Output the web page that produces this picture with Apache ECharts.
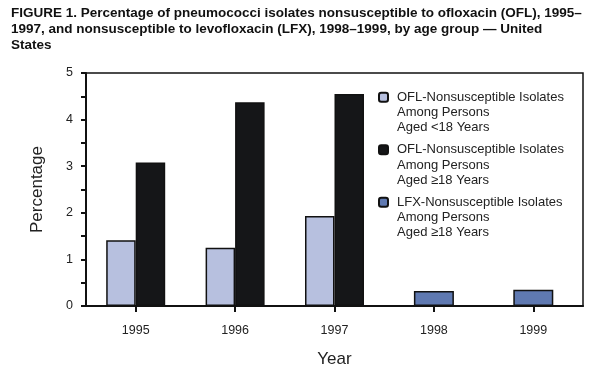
<!DOCTYPE html>
<html><head><meta charset="utf-8">
<script src="https://cdn.jsdelivr.net/npm/echarts@6/dist/echarts.min.js"></script>
<style>html,body{margin:0;padding:0;background:#fff}#c{width:600px;height:378px}</style>
</head><body><div id="c"></div>
<script>
var years = ['1995','1996','1997','1998','1999'];
var oflUnder18 = [1.41, 1.25, 1.93, null, null];
var oflOver18 = [3.08, 4.37, 4.55, null, null];
var lfxOver18 = [null, null, null, 0.32, 0.35];
var seriesNames = [
  'OFL-Nonsusceptible Isolates\nAmong Persons\nAged <18 Years',
  'OFL-Nonsusceptible Isolates\nAmong Persons\nAged \u226518 Years',
  'LFX-Nonsusceptible Isolates\nAmong Persons\nAged \u226518 Years'
];
var titleText = 'FIGURE 1. Percentage of pneumococci isolates nonsusceptible to ofloxacin (OFL), 1995\u2013\n1997, and nonsusceptible to levofloxacin (LFX), 1998\u20131999, by age group \u2014 United\nStates';

var chart = echarts.init(document.getElementById('c'));
var font = 'Liberation Sans, Arial, sans-serif';
var lh = 15.3;
chart.setOption({
  animation: false,
  textStyle: {fontFamily: font},
  title: {
    text: titleText, left: 11, top: 5, padding: 0,
    textStyle: {fontFamily: font, fontWeight: 'bold', fontSize: 13.5, lineHeight: 16, color: '#111'}
  },
  grid: {left: 86, right: 17, top: 73, bottom: 72, show: true, borderColor: '#111', borderWidth: 1.5, containLabel: false},
  legend: {
    orient: 'vertical', left: 378, top: 59, padding: 0, itemWidth: 9, itemHeight: 9, itemGap: -24,
    selectedMode: false,
    formatter: function (n) { return '\n\n' + n; },
    textStyle: {fontSize: 13, color: '#222', lineHeight: lh, padding: [0, 0, 0, 4]},
    data: seriesNames
  },
  xAxis: [{
    type: 'category', data: years,
    name: 'Year', nameLocation: 'middle', nameGap: 45,
    nameTextStyle: {fontSize: 17, color: '#222'},
    axisLine: {lineStyle: {color: '#111', width: 2}},
    axisTick: {show: true, alignWithLabel: true, length: 6, lineStyle: {color: '#111', width: 2}},
    axisLabel: {fontSize: 12.5, color: '#222', margin: 18}
  }, {
    type: 'category', data: years, show: false
  }],
  yAxis: {
    type: 'value', min: 0, max: 5, interval: 0.5,
    name: 'Percentage', nameLocation: 'middle', nameGap: 40,
    nameTextStyle: {fontSize: 17, color: '#222'},
    axisLine: {show: true, lineStyle: {color: '#111', width: 2}},
    axisTick: {show: true, length: 5, lineStyle: {color: '#111', width: 2}},
    axisLabel: {fontSize: 12.5, color: '#222', margin: 13,
      formatter: function (v) { return (Math.abs(v - Math.round(v)) < 1e-9) ? String(Math.round(v)) : ''; }},
    splitLine: {show: false}
  },
  series: [{
    name: seriesNames[0], type: 'bar', xAxisIndex: 0, data: oflUnder18,
    barWidth: 29.5, barGap: '0%',
    itemStyle: {color: '#b7c0df', borderColor: '#111', borderWidth: 1.5}
  }, {
    name: seriesNames[1], type: 'bar', xAxisIndex: 0, data: oflOver18,
    barWidth: 29.5, barGap: '0%',
    itemStyle: {color: '#151618', borderColor: '#111', borderWidth: 1.5}
  }, {
    name: seriesNames[2], type: 'bar', xAxisIndex: 1, data: lfxOver18,
    barWidth: 40,
    itemStyle: {color: '#5f79b1', borderColor: '#111', borderWidth: 1.5}
  }]
});
</script></body></html>
